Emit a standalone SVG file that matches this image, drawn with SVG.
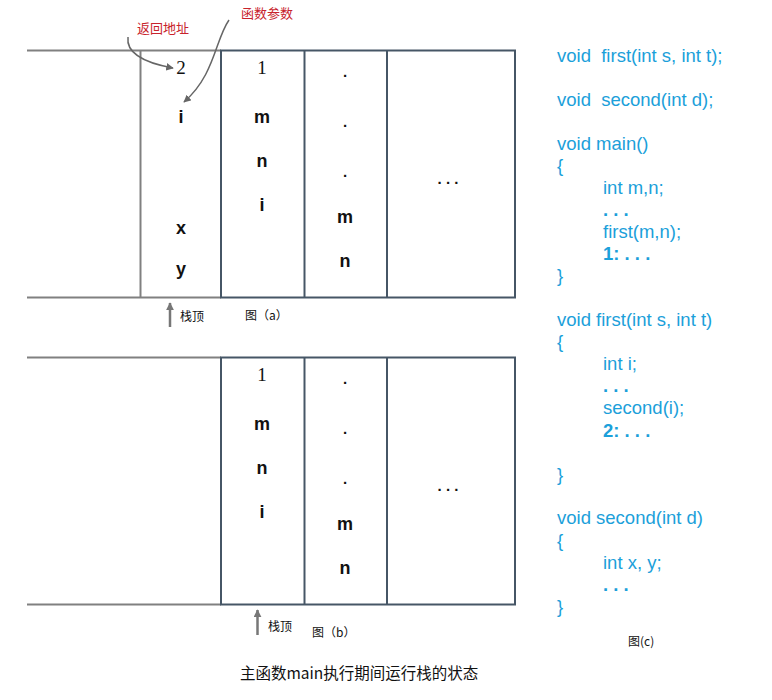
<svg xmlns="http://www.w3.org/2000/svg" width="772" height="700" viewBox="0 0 772 700">
<defs>
<marker id="ah" viewBox="0 0 10 10" refX="9" refY="5" markerWidth="5" markerHeight="5" orient="auto"><path d="M0,0 L10,5 L0,10 z" fill="#666"/></marker>
<marker id="ah2" viewBox="0 0 10 10" refX="9" refY="5" markerWidth="3.2" markerHeight="3.2" orient="auto"><path d="M0,0 L10,5 L0,10 z" fill="#777"/></marker>
</defs>
<style>
.g{stroke:#808080;stroke-width:2;fill:none}
.d{stroke:#465666;stroke-width:2;fill:none}
.v{font-family:"Liberation Sans",Arial,sans-serif;font-weight:bold;font-size:18px;fill:#111;text-anchor:middle}
.s{font-family:"Liberation Serif","Times New Roman",serif;font-size:19px;fill:#111;text-anchor:middle}
.c{font-family:"Liberation Sans",Arial,sans-serif;font-size:18.5px;fill:#1ba0da}
.cb{font-weight:bold}
.r{font-family:"Noto Sans CJK SC",sans-serif;font-size:13px;fill:#c8232c}
.k{font-family:"Noto Sans CJK SC",sans-serif;font-size:12px;fill:#111}
.cap{font-family:"Noto Sans CJK SC",sans-serif;font-size:15.5px;fill:#111}
.dt{font-family:"Liberation Sans",Arial,sans-serif;font-weight:bold;font-size:15px;fill:#111;text-anchor:middle}
</style>
<g id="stack-a">
<line class="g" x1="27" y1="50.5" x2="221" y2="50.5"/>
<line class="g" x1="27" y1="297.5" x2="221" y2="297.5"/>
<line class="g" x1="140.5" y1="50.5" x2="140.5" y2="297.5"/>
<rect class="d" x="221" y="50.5" width="294" height="247"/>
<line class="d" x1="304.5" y1="50.5" x2="304.5" y2="297.5"/>
<line class="d" x1="387" y1="50.5" x2="387" y2="297.5"/>
<text class="s" x="181" y="74">2</text>
<text class="v" x="181" y="123">i</text>
<text class="v" x="181" y="234">x</text>
<text class="v" x="181" y="275">y</text>
<text class="s" x="262" y="74">1</text>
<text class="v" x="262" y="123">m</text>
<text class="v" x="262" y="167">n</text>
<text class="v" x="262" y="211">i</text>
<text class="dt" x="345" y="77">.</text>
<text class="dt" x="345" y="127">.</text>
<text class="dt" x="345" y="177">.</text>
<text class="v" x="345" y="223">m</text>
<text class="v" x="345" y="267">n</text>
<text class="dt" x="448" y="184">. . .</text>
</g>
<g id="stack-b">
<line class="g" x1="27" y1="357.5" x2="221" y2="357.5"/>
<line class="g" x1="27" y1="604.5" x2="221" y2="604.5"/>
<rect class="d" x="221" y="357.5" width="294" height="247"/>
<line class="d" x1="304.5" y1="357.5" x2="304.5" y2="604.5"/>
<line class="d" x1="387" y1="357.5" x2="387" y2="604.5"/>
<text class="s" x="262" y="381">1</text>
<text class="v" x="262" y="430">m</text>
<text class="v" x="262" y="474">n</text>
<text class="v" x="262" y="518">i</text>
<text class="dt" x="345" y="384">.</text>
<text class="dt" x="345" y="434">.</text>
<text class="dt" x="345" y="484">.</text>
<text class="v" x="345" y="530">m</text>
<text class="v" x="345" y="574">n</text>
<text class="dt" x="448" y="491">. . .</text>
</g>
<g id="labels">
<text class="r" x="137" y="33">返回地址</text>
<text class="r" x="241" y="18">函数参数</text>
<text class="k" x="180" y="321">栈顶</text>
<text class="k" x="245" y="320">图（a）</text>
<text class="k" x="268" y="631">栈顶</text>
<text class="k" x="312" y="637">图（b）</text>
<text class="k" x="628" y="646">图(c)</text>
<text class="cap" x="240" y="679">主函数main执行期间运行栈的状态</text>
</g>
<g id="connectors">
<path d="M128,37 C126,52 140,62 173,68" stroke="#666" stroke-width="1.5" fill="none" marker-end="url(#ah)"/>
<path d="M229,20 C215,40 215,75 184,102" stroke="#666" stroke-width="1.5" fill="none" marker-end="url(#ah)"/>
<line x1="170" y1="327" x2="170" y2="303" stroke="#777" stroke-width="2.5" marker-end="url(#ah2)"/>
<line x1="257.5" y1="635" x2="257.5" y2="610" stroke="#777" stroke-width="2.5" marker-end="url(#ah2)"/>
</g>
<g id="code">
<text class="c" x="557" y="62" xml:space="preserve">void  first(int s, int t);</text>
<text class="c" x="557" y="106" xml:space="preserve">void  second(int d);</text>
<text class="c" x="557" y="150">void main()</text>
<text class="c" x="557" y="172">{</text>
<text class="c" x="603" y="194">int m,n;</text>
<text class="c cb" x="603" y="216">. . .</text>
<text class="c" x="603" y="238">first(m,n);</text>
<text class="c cb" x="603" y="260">1: . . .</text>
<text class="c" x="557" y="282">}</text>
<text class="c" x="557" y="326">void first(int s, int t)</text>
<text class="c" x="557" y="348">{</text>
<text class="c" x="603" y="370">int i;</text>
<text class="c cb" x="603" y="392">. . .</text>
<text class="c" x="603" y="414">second(i);</text>
<text class="c cb" x="603" y="437">2: . . .</text>
<text class="c" x="557" y="481">}</text>
<text class="c" x="557" y="524">void second(int d)</text>
<text class="c" x="557" y="547">{</text>
<text class="c" x="603" y="569">int x, y;</text>
<text class="c cb" x="603" y="591">. . .</text>
<text class="c" x="557" y="613">}</text>
</g>
</svg>
